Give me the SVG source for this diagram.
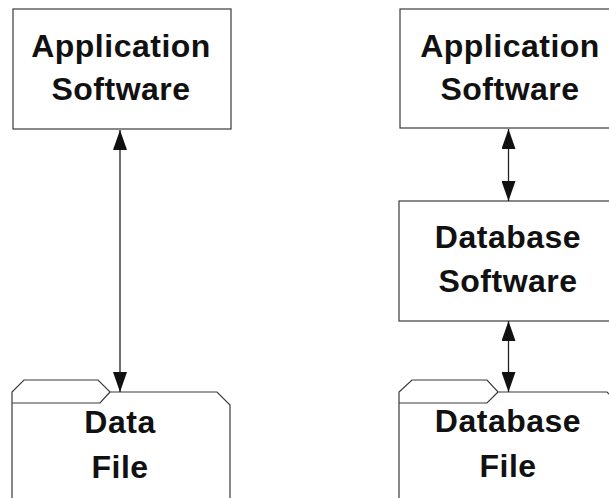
<svg xmlns="http://www.w3.org/2000/svg" width="609" height="498" viewBox="0 0 609 498">
<defs>
<style>
.box{fill:none;stroke:#3a3a3a;stroke-width:1.2}
.conn{stroke:#222;stroke-width:1.3;fill:none}
.lbl{font-family:"Liberation Sans",Arial,sans-serif;font-weight:bold;font-size:32px;fill:#111;text-anchor:middle;letter-spacing:0.5px}
</style>
<marker id="ah" viewBox="0 0 20 14" refX="20" refY="7" markerWidth="20" markerHeight="14" markerUnits="userSpaceOnUse" orient="auto-start-reverse">
<path d="M0,0 L20,7 L0,14 Z" fill="#111"/>
</marker>
</defs>
<rect width="609" height="498" fill="#fff"/>
<g id="app-left">
<rect class="box" x="13" y="9" width="218" height="120"/>
<text class="lbl" x="121" y="57">Application</text>
<text class="lbl" x="121" y="100">Software</text>
</g>
<g id="data-file">
<path class="box" d="M12,498 V392 L24,380 H98 L110,392 H217 L230,405 V498"/>
<path class="box" d="M12,403 H100 L110,392"/>
<text class="lbl" x="120" y="433">Data</text>
<text class="lbl" x="120" y="478">File</text>
</g>
<g id="app-right">
<rect class="box" x="400" y="9" width="220" height="119"/>
<text class="lbl" x="510" y="57">Application</text>
<text class="lbl" x="510" y="100">Software</text>
</g>
<g id="db-software">
<rect class="box" x="399" y="201" width="220" height="120"/>
<text class="lbl" x="508" y="248">Database</text>
<text class="lbl" x="508" y="292">Software</text>
</g>
<g id="db-file">
<path class="box" d="M399,498 V392 L412,380 H487 L498,392 H607 L620,405"/>
<path class="box" d="M399,403 H487 L498,392"/>
<text class="lbl" x="508" y="432">Database</text>
<text class="lbl" x="508" y="477">File</text>
</g>
<g id="connectors">
<line class="conn" x1="120" y1="130" x2="120" y2="392" marker-start="url(#ah)" marker-end="url(#ah)"/>
<line class="conn" x1="508.5" y1="129" x2="508.5" y2="201" marker-start="url(#ah)" marker-end="url(#ah)"/>
<line class="conn" x1="508.5" y1="321" x2="508.5" y2="392" marker-start="url(#ah)" marker-end="url(#ah)"/>
</g>
</svg>
